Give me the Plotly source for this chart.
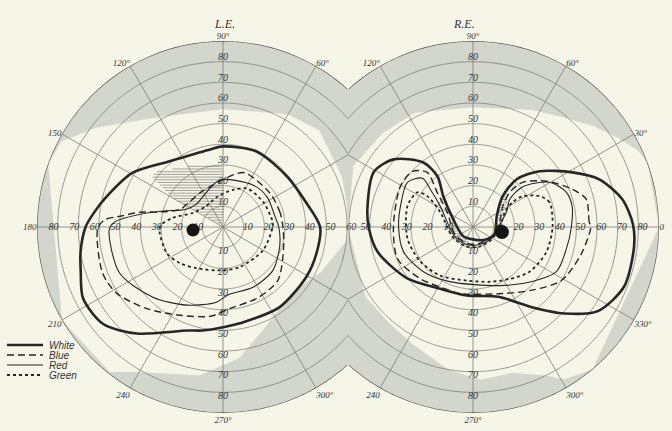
import numpy as np
import plotly.graph_objects as go

# ------------------------------------------------------------------ data
grid_radii = [10, 20, 30, 40, 50, 60, 70, 80]
outer_radius = 90
spoke_angles = [0, 30, 60, 90, 120, 150, 180, 210, 240, 270, 300, 330]
radial_label_values = [10, 20, 30, 40, 50, 60, 70, 80]

le_angle_ticks = [60, 90, 120, 150, 180, 210, 240, 270, 300]
le_angle_text = ["60°", "90°", "120°", "150", "180", "210", "240", "270°", "300°"]
re_angle_ticks = [0, 30, 60, 90, 120, 240, 270, 300, 330]
re_angle_text = ["0", "30°", "60°", "90°", "120°", "240", "270°", "300°", "330°"]

# Left eye (L.E.) isopters: theta in degrees, r in degrees of field
le_white_theta = [0, 16, 38, 66, 90, 100, 129, 149, 165, 174, 180, 190, 197, 207, 219, 231, 251, 259, 270, 280, 305, 329, 345, 360]
le_white_r = [47, 42, 39.5, 40, 39, 38, 41, 51, 58, 63, 66.5, 70, 72, 76, 74.6, 66.3, 53, 51, 48.5, 47.3, 47.5, 47, 47, 47]

le_blue_theta = [0, 14, 36, 68, 79, 95, 120, 140, 150, 158, 166.6, 170, 174, 176.6, 181, 201, 212, 227, 244, 262, 275, 296, 316, 341, 360]
le_blue_r = [29, 28.5, 28, 28.3, 25.7, 22, 20, 20, 21, 22.4, 31.4, 40.9, 50, 57.5, 60.7, 62.4, 60.6, 54, 47.5, 43.6, 39.5, 38.2, 37, 31, 29]

le_red_theta = [0, 11, 34, 54, 94, 120, 140, 155, 165, 172, 177, 181, 204, 225, 245, 265, 274, 297, 319, 341, 360]
le_red_r = [27, 25.7, 25.8, 25, 22.8, 18, 17, 20, 30, 42, 52, 55, 54.8, 48, 41.7, 36.5, 33, 32.6, 32, 29, 27]

le_green_theta = [0, 8, 32, 58, 75, 100, 130, 155, 170, 180, 205, 220, 238, 270, 293, 330, 360]
le_green_r = [24, 24, 22.9, 22, 18.6, 15, 13, 16, 25, 30.6, 30, 27.2, 23.6, 21, 21, 22.4, 24]

# Right eye (R.E.) isopters (listed in path order)
re_white_theta = [1, 10.6, 20.7, 28.8, 40, 47.5, 46, 25, 342, 313, 270, 222, 158, 134, 125, 127.6, 139.6, 151, 169, 180, 194.6, 218, 242, 265, 290, 306, 316.6, 326, 338.5, 353, 361]
re_white_r = [77.4, 73.4, 65.3, 54.9, 42, 31.3, 20.7, 12.7, 11, 8.5, 6, 6.5, 10.4, 20.7, 30, 39.4, 50.5, 54.9, 52, 50.5, 47.7, 40.4, 33.8, 33.3, 35.9, 47.8, 60.9, 72.8, 78.6, 78.5, 77.4]

re_blue_theta = [0, 2.4, 13.8, 20.8, 31.9, 42, 43.4, 35, 10, 330, 290, 250, 200, 150, 136, 130, 137.5, 150.7, 180, 203, 224.5, 250, 258, 291, 313, 328.8, 346, 360]
re_blue_r = [57, 56.3, 56.4, 51.4, 41.9, 32.3, 24.5, 17.6, 13, 10, 8.5, 8.5, 9.5, 14.4, 24.1, 34.5, 39.8, 40.3, 38.5, 39.6, 35.7, 32.7, 32.9, 34.6, 41.8, 50, 54, 57]

re_red_theta = [0, 12, 20.4, 30.3, 39, 37, 25, 5, 330, 290, 250, 205, 147.5, 138.5, 136, 145.7, 164, 180, 199.7, 222, 247, 294.6, 317.5, 331.8, 346.8, 360]
re_red_r = [47.6, 49, 48.2, 42.9, 31, 22.3, 18, 13, 10.5, 9, 9, 10, 18.8, 27.6, 34, 38.4, 36.5, 36, 35.7, 32.3, 28.7, 31.2, 39, 45.8, 46.4, 47.6]

re_green_theta = [0, 18, 24.8, 31.8, 32, 25, 5, 330, 290, 250, 205, 155.6, 146, 148, 162, 190, 213, 236, 264, 287, 305, 321.7, 341, 360]
re_green_r = [38.5, 38.9, 35.5, 28.3, 22.7, 17, 13.5, 11, 10, 10, 11, 17.4, 26.7, 31.7, 33.3, 32.2, 30.5, 28.4, 26.1, 27.7, 30.7, 34.9, 37.5, 38.5]

# Limits of the normal field (outside of these is shaded)
le_field_theta = [0, 11, 23, 45, 60, 90, 120, 142, 152, 160, 210, 232, 240, 261, 277, 294, 317, 335, 354, 360]
le_field_r = [61, 61, 62.5, 66, 63, 57, 61.5, 78, 88.4, 90, 90, 89, 81, 72.7, 64, 52, 46, 52, 60.5, 61]
re_field_theta = [0, 20, 25, 32, 40, 50, 63, 90, 117, 134, 153, 180, 213, 229, 244, 260.5, 273, 285, 296, 301, 310, 360]
re_field_r = [90, 90, 88, 82, 76, 69, 63.5, 58, 62, 63, 65, 61, 62, 61.7, 64, 70.2, 74, 73, 80, 86, 90, 90]

# Hatched (scotoma) areas
le_hatch_theta = [91, 118, 141, 145, 150.6, 147, 148, 110, 85]
le_hatch_r = [29.5, 33.5, 42.3, 41.7, 26.6, 13.3, 4.6, 1.5, 10.7]
re_hatch1_theta = [160, 185, 215, 245, 265, 245, 215, 190]
re_hatch1_r = [11, 8, 7, 6.5, 6, 10, 11, 12]
re_hatch2_theta = [25, 45, 50, 40, 22, 10]
re_hatch2_r = [13, 20, 26, 22, 15.5, 13]

# Blind spots
le_blind_theta = [185.7]
le_blind_r = [14.6]
re_blind_theta = [350]
re_blind_r = [14.2]

# ------------------------------------------------------------------ geometry
W, H = 672, 431
R_PX = 186
LC = (223, 227)
RC = (473, 227)
SCALE = R_PX / outer_radius
D = (RC[0] - LC[0]) / 2 / SCALE   # distance (in field degrees) to the mid line

BG = "#f5f6e8"
GRAY = "#d3d6cc"
INK = "#262626"
GRID = "#7d7d78"


def domain(c):
    return dict(x=[(c[0] - R_PX) / W, (c[0] + R_PX) / W],
                y=[(H - c[1] - R_PX) / H, (H - c[1] + R_PX) / H])


def r_limit(th, side):
    c = side * np.cos(np.radians(th))
    with np.errstate(divide="ignore"):
        lim = np.where(c > 1e-6, D / np.maximum(c, 1e-6), 1e9)
    return np.minimum(outer_radius, lim)


fig = go.Figure()


def add(trace, sub):
    trace.update(subplot=sub, showlegend=False, hoverinfo="skip")
    fig.add_trace(trace)


def build_eye(sub, side, field_t, field_r, label_dirs):
    # shaded band outside the normal field
    th = np.arange(0, 360.5, 0.5)
    ro = r_limit(th, side)
    ft = np.array(field_t, float)
    fr = np.minimum(np.array(field_r, float), r_limit(ft, side))
    band_t = list(th) + list(ft[::-1])
    band_r = list(ro) + list(fr[::-1])
    add(go.Scatterpolar(r=band_r, theta=band_t, mode="lines", fill="toself",
                        fillcolor=GRAY, line=dict(width=0, color=GRAY)), sub)
    # grid circles
    gr, gt = [], []
    for rr in grid_radii:
        vis = side * rr * np.cos(np.radians(th)) <= D
        for t, v in zip(th, vis):
            gr.append(rr if v else None)
            gt.append(t)
        gr.append(None)
        gt.append(None)
    # spokes
    for a in spoke_angles:
        re_ = float(r_limit(np.array([a]), side)[0])
        gr += [0, re_, None]
        gt += [a, a, None]
    add(go.Scatterpolar(r=gr, theta=gt, mode="lines",
                        line=dict(width=0.8, color=GRID)), sub)
    # outer boundary
    vis = side * outer_radius * np.cos(np.radians(th)) <= D + 1e-9
    orr = [outer_radius if v else None for v in vis]
    add(go.Scatterpolar(r=orr, theta=list(th), mode="lines",
                        line=dict(width=1.3, color="#555550")), sub)
    # radial labels
    lt, lr, tx = [], [], []
    for ang, vals in label_dirs:
        for v in vals:
            lt.append(ang)
            lr.append(v + 2)
            tx.append(str(v))
    add(go.Scatterpolar(r=lr, theta=lt, mode="text", text=tx,
                        textfont=dict(family="Liberation Serif", size=10,
                                      color="#333333", style="italic")), sub)


def add_hatch(sub, th_list, r_list, spacing=1.3):
    t = np.radians(np.array(th_list, float))
    r = np.array(r_list, float)
    x = r * np.cos(t)
    y = r * np.sin(t)
    n = len(x)
    hr, ht = [], []
    ys = np.arange(y.min() + spacing / 2, y.max(), spacing)
    for yy in ys:
        xs = []
        for i in range(n):
            x1, y1, x2, y2 = x[i], y[i], x[(i + 1) % n], y[(i + 1) % n]
            if (y1 <= yy < y2) or (y2 <= yy < y1):
                xs.append(x1 + (yy - y1) * (x2 - x1) / (y2 - y1))
        xs.sort()
        for k in range(0, len(xs) - 1, 2):
            for xx in (xs[k], xs[k + 1]):
                hr.append(float(np.hypot(xx, yy)))
                ht.append(float(np.degrees(np.arctan2(yy, xx))))
            hr.append(None)
            ht.append(None)
    add(go.Scatterpolar(r=hr, theta=ht, mode="lines",
                        line=dict(width=0.6, color="#6a6a66")), sub)


def add_isopters(sub, series):
    styles = {
        "White": dict(width=2.6, color=INK),
        "Blue": dict(width=1.4, color=INK, dash="7px,4px"),
        "Red": dict(width=1.1, color=INK),
        "Green": dict(width=1.8, color=INK, dash="dot"),
    }
    for name, (t, r) in series.items():
        tr = go.Scatterpolar(r=r, theta=t, mode="lines", name=name,
                             line=dict(shape="spline", smoothing=0.8, **styles[name]))
        add(tr, sub)


# ---------------- left eye
build_eye("polar", 1, le_field_theta, le_field_r,
          [(90, radial_label_values), (270, radial_label_values),
           (180, radial_label_values),
           (0, [v for v in radial_label_values if v <= D])])
add_hatch("polar", le_hatch_theta, le_hatch_r)
add_isopters("polar", {
    "White": (le_white_theta, le_white_r),
    "Blue": (le_blue_theta, le_blue_r),
    "Red": (le_red_theta, le_red_r),
    "Green": (le_green_theta, le_green_r),
})
add(go.Scatterpolar(r=le_blind_r, theta=le_blind_theta, mode="markers",
                    marker=dict(size=13, color="#151515")), "polar")

# ---------------- right eye (the shared "60" on the mid line is drawn by L.E.)
build_eye("polar2", -1, re_field_theta, re_field_r,
          [(90, radial_label_values), (270, radial_label_values),
           (0, radial_label_values),
           (180, [v for v in radial_label_values if v < 60])])
add_hatch("polar2", re_hatch1_theta, re_hatch1_r)
add_hatch("polar2", re_hatch2_theta, re_hatch2_r)
add_isopters("polar2", {
    "White": (re_white_theta, re_white_r),
    "Blue": (re_blue_theta, re_blue_r),
    "Red": (re_red_theta, re_red_r),
    "Green": (re_green_theta, re_green_r),
})
add(go.Scatterpolar(r=re_blind_r, theta=re_blind_theta, mode="markers",
                    marker=dict(size=14, color="#151515")), "polar2")


def polar_layout(c, ticks, texts):
    return dict(
        domain=domain(c),
        bgcolor="rgba(0,0,0,0)",
        radialaxis=dict(range=[0, outer_radius], visible=False),
        angularaxis=dict(rotation=0, direction="counterclockwise",
                         showgrid=False, showline=False, ticks="",
                         tickvals=ticks, ticktext=texts,
                         tickfont=dict(family="Liberation Serif", size=9,
                                       color="#333333", style="italic")),
    )


# manual legend (key lines + labels)
legend_rows = [("White", 345, dict(width=2.6, color=INK)),
               ("Blue", 355, dict(width=1.4, color=INK, dash="7px,4px")),
               ("Red", 365, dict(width=1.1, color=INK)),
               ("Green", 375, dict(width=1.8, color=INK, dash="dot"))]
shapes, annotations = [], []
for name, ypx, ln in legend_rows:
    shapes.append(dict(type="line", xref="paper", yref="paper",
                       x0=7 / W, x1=43 / W, y0=1 - ypx / H, y1=1 - ypx / H, line=ln))
    annotations.append(dict(text=name, x=47 / W, y=1 - ypx / H, xref="paper",
                            yref="paper", xanchor="left", yanchor="middle",
                            showarrow=False, height=10,
                            font=dict(family="Liberation Sans", size=10,
                                      color="#333333", style="italic")))

annotations.append(dict(text="L.E.", x=225 / W, y=1 - 15 / H, xref="paper", yref="paper",
                        showarrow=False,
                        font=dict(family="Liberation Serif", size=12,
                                  color="#333333", style="italic")))
annotations.append(dict(text="R.E.", x=477 / W, y=1 - 15 / H, xref="paper", yref="paper",
                        showarrow=False,
                        font=dict(family="Liberation Serif", size=12,
                                  color="#333333", style="italic")))

fig.update_layout(
    width=W, height=H,
    margin=dict(l=0, r=0, t=0, b=0),
    paper_bgcolor=BG, plot_bgcolor=BG,
    polar=polar_layout(LC, le_angle_ticks, le_angle_text),
    polar2=polar_layout(RC, re_angle_ticks, re_angle_text),
    shapes=shapes, annotations=annotations,
    showlegend=False,
)

fig.write_html("out.html",
               config={"displayModeBar": False},
               post_script="document.body.style.margin='0';"
                           "document.body.style.overflow='hidden';"
                           "document.body.style.background='" + BG + "';")
